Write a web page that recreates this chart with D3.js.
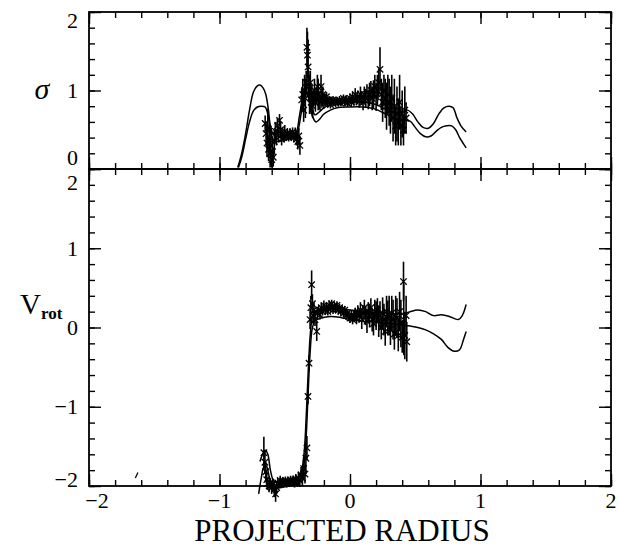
<!DOCTYPE html>
<html>
<head>
<meta charset="utf-8">
<script src="https://cdn.jsdelivr.net/npm/d3@7"></script>
<style>
  html, body { margin: 0; padding: 0; background: #fff; }
  svg { display: block; }
</style>
</head>
<body>
<script>
// ---- data ----
// sigma panel: [x, sigma, error]
var sigmaData = [
  [-0.650, 0.58, 0.10], [-0.643, 0.45, 0.15], [-0.636, 0.33, 0.18], [-0.630, 0.52, 0.25],
  [-0.624, 0.25, 0.15], [-0.618, 0.38, 0.20], [-0.612, 0.20, 0.18], [-0.606, 0.30, 0.25],
  [-0.600, 0.12, 0.10], [-0.594, 0.22, 0.15], [-0.588, 0.15, 0.12], [-0.580, 0.35, 0.15],
  [-0.572, 0.48, 0.12], [-0.564, 0.40, 0.10], [-0.556, 0.55, 0.10], [-0.548, 0.45, 0.10],
  [-0.540, 0.62, 0.08], [-0.532, 0.50, 0.10], [-0.524, 0.38, 0.08], [-0.516, 0.45, 0.08],
  [-0.508, 0.40, 0.06], [-0.500, 0.48, 0.08], [-0.490, 0.42, 0.06], [-0.480, 0.45, 0.06],
  [-0.470, 0.40, 0.05], [-0.460, 0.46, 0.06], [-0.450, 0.42, 0.05], [-0.440, 0.47, 0.06],
  [-0.430, 0.40, 0.06], [-0.420, 0.45, 0.08], [-0.410, 0.38, 0.08], [-0.400, 0.35, 0.10],
  [-0.392, 0.42, 0.10], [-0.384, 0.30, 0.12],
  [-0.370, 0.88, 0.15], [-0.362, 0.95, 0.20], [-0.355, 0.75, 0.15], [-0.348, 1.00, 0.20],
  [-0.342, 0.90, 0.25], [-0.336, 1.10, 0.15], [-0.330, 1.55, 0.25], [-0.326, 1.45, 0.30],
  [-0.321, 1.30, 0.35], [-0.316, 1.05, 0.20], [-0.310, 0.95, 0.25], [-0.304, 1.10, 0.15],
  [-0.298, 0.85, 0.15], [-0.292, 0.95, 0.12], [-0.286, 0.80, 0.15], [-0.280, 0.90, 0.10],
  [-0.272, 1.00, 0.15], [-0.265, 0.85, 0.12], [-0.258, 0.92, 0.10], [-0.250, 1.05, 0.15],
  [-0.244, 0.95, 0.20], [-0.238, 0.88, 0.12], [-0.230, 0.85, 0.10], [-0.222, 1.05, 0.15],
  [-0.215, 0.90, 0.12], [-0.208, 0.95, 0.10], [-0.200, 0.85, 0.08],
  [-0.190, 0.88, 0.08], [-0.180, 0.92, 0.06], [-0.170, 0.85, 0.06], [-0.160, 0.88, 0.05],
  [-0.150, 0.82, 0.05], [-0.140, 0.85, 0.05], [-0.130, 0.88, 0.05], [-0.120, 0.86, 0.05],
  [-0.110, 0.84, 0.05], [-0.100, 0.87, 0.04], [-0.090, 0.85, 0.04], [-0.080, 0.88, 0.05],
  [-0.070, 0.84, 0.04], [-0.060, 0.87, 0.04], [-0.050, 0.90, 0.05], [-0.040, 0.86, 0.05],
  [-0.030, 0.88, 0.05], [-0.020, 0.84, 0.05], [-0.010, 0.88, 0.05], [0.000, 0.90, 0.06],
  [0.010, 0.85, 0.06], [0.020, 0.92, 0.06], [0.030, 0.87, 0.06], [0.040, 0.95, 0.08],
  [0.050, 0.88, 0.07], [0.060, 0.92, 0.08], [0.070, 0.86, 0.08], [0.080, 0.95, 0.10],
  [0.090, 0.90, 0.08], [0.100, 0.85, 0.10], [0.110, 0.95, 0.10], [0.120, 0.90, 0.12],
  [0.130, 0.98, 0.10], [0.140, 0.88, 0.12], [0.150, 0.95, 0.15], [0.160, 1.00, 0.12],
  [0.170, 0.90, 0.15], [0.180, 0.95, 0.18], [0.190, 1.05, 0.15], [0.200, 0.92, 0.18],
  [0.210, 1.00, 0.20], [0.220, 1.10, 0.18], [0.230, 1.27, 0.28], [0.240, 0.95, 0.20],
  [0.250, 0.85, 0.25], [0.260, 1.00, 0.20], [0.270, 0.90, 0.25], [0.280, 0.80, 0.30],
  [0.290, 0.95, 0.25], [0.300, 0.85, 0.30], [0.310, 0.75, 0.30], [0.320, 0.90, 0.30],
  [0.330, 0.65, 0.30], [0.340, 0.80, 0.35], [0.350, 0.55, 0.25], [0.360, 0.70, 0.35],
  [0.370, 0.60, 0.30], [0.380, 0.85, 0.35], [0.390, 0.55, 0.25], [0.400, 0.70, 0.30],
  [0.410, 0.50, 0.20], [0.420, 0.75, 0.30], [0.430, 0.65, 0.20]
];

var sigmaUpper = [
  [-0.860, 0.02], [-0.830, 0.20], [-0.800, 0.45], [-0.770, 0.75], [-0.740, 0.98], [-0.710, 1.06],
  [-0.690, 1.07], [-0.665, 1.03], [-0.645, 0.95], [-0.625, 0.75], [-0.610, 0.55], [-0.590, 0.45],
  [-0.560, 0.42], [-0.520, 0.40], [-0.480, 0.42], [-0.440, 0.45], [-0.410, 0.48], [-0.390, 0.65],
  [-0.370, 0.85], [-0.350, 1.00], [-0.330, 1.08], [-0.310, 1.00], [-0.290, 0.80], [-0.270, 0.69],
  [-0.240, 0.72], [-0.200, 0.78], [-0.150, 0.82], [-0.100, 0.84], [0.000, 0.85], [0.100, 0.85],
  [0.150, 0.84], [0.200, 0.82], [0.250, 0.78], [0.300, 0.74], [0.350, 0.72], [0.400, 0.73],
  [0.440, 0.75], [0.480, 0.70], [0.520, 0.60], [0.560, 0.53], [0.600, 0.52], [0.640, 0.58],
  [0.680, 0.70], [0.720, 0.78], [0.760, 0.80], [0.790, 0.78], [0.820, 0.65], [0.850, 0.55],
  [0.890, 0.47]
];

var sigmaLower = [
  [-0.855, 0.02], [-0.830, 0.15], [-0.800, 0.38], [-0.770, 0.60], [-0.740, 0.74], [-0.710, 0.79],
  [-0.680, 0.80], [-0.650, 0.79], [-0.630, 0.70], [-0.610, 0.50], [-0.590, 0.38], [-0.560, 0.35],
  [-0.520, 0.36], [-0.480, 0.38], [-0.440, 0.40], [-0.410, 0.42], [-0.390, 0.55], [-0.370, 0.75],
  [-0.350, 0.90], [-0.330, 0.95], [-0.310, 0.85], [-0.290, 0.68], [-0.260, 0.60], [-0.230, 0.64],
  [-0.200, 0.70], [-0.150, 0.75], [-0.100, 0.78], [0.000, 0.79], [0.100, 0.79], [0.150, 0.78],
  [0.200, 0.76], [0.250, 0.72], [0.300, 0.68], [0.350, 0.64], [0.400, 0.62], [0.460, 0.61],
  [0.500, 0.53], [0.540, 0.45], [0.580, 0.41], [0.620, 0.42], [0.660, 0.48], [0.700, 0.53],
  [0.740, 0.55], [0.780, 0.55], [0.810, 0.50], [0.840, 0.40], [0.870, 0.32], [0.890, 0.27]
];

// rotation panel: [x, vrot, error]
var vrotData = [
  [-0.660, -1.58, 0.20], [-0.652, -1.70, 0.15], [-0.645, -1.82, 0.12], [-0.638, -1.92, 0.10],
  [-0.630, -1.97, 0.08], [-0.620, -2.00, 0.08], [-0.610, -1.96, 0.06], [-0.600, -2.02, 0.08],
  [-0.590, -1.98, 0.07], [-0.580, -2.04, 0.10], [-0.570, -2.10, 0.10], [-0.562, -2.02, 0.08],
  [-0.554, -1.96, 0.06], [-0.545, -1.98, 0.05], [-0.535, -1.93, 0.06], [-0.525, -1.97, 0.05],
  [-0.515, -1.94, 0.05], [-0.505, -1.96, 0.05], [-0.495, -1.93, 0.05], [-0.485, -1.97, 0.05],
  [-0.475, -1.94, 0.05], [-0.465, -1.96, 0.05], [-0.455, -1.92, 0.05], [-0.445, -1.95, 0.05],
  [-0.435, -1.93, 0.06], [-0.425, -1.96, 0.06], [-0.415, -1.91, 0.06], [-0.405, -1.94, 0.06],
  [-0.395, -1.90, 0.08], [-0.385, -1.93, 0.08], [-0.375, -1.86, 0.10], [-0.365, -1.90, 0.10],
  [-0.355, -1.78, 0.15], [-0.345, -1.85, 0.12], [-0.338, -1.65, 0.20], [-0.330, -1.52, 0.15],
  [-0.322, -0.87, 0.10], [-0.314, -0.45, 0.10], [-0.306, 0.10, 0.12], [-0.300, 0.25, 0.15],
  [-0.294, 0.54, 0.18], [-0.288, 0.30, 0.12], [-0.282, 0.15, 0.10], [-0.276, 0.22, 0.10],
  [-0.268, 0.10, 0.08], [-0.255, -0.05, 0.12], [-0.250, 0.18, 0.08], [-0.240, 0.22, 0.06],
  [-0.230, 0.16, 0.06], [-0.220, 0.25, 0.06], [-0.210, 0.20, 0.05], [-0.200, 0.28, 0.06],
  [-0.190, 0.22, 0.05], [-0.180, 0.26, 0.05], [-0.170, 0.20, 0.05], [-0.160, 0.28, 0.06],
  [-0.150, 0.24, 0.05], [-0.140, 0.30, 0.05], [-0.130, 0.22, 0.05], [-0.120, 0.27, 0.05],
  [-0.110, 0.24, 0.05], [-0.100, 0.28, 0.05], [-0.090, 0.22, 0.05], [-0.080, 0.25, 0.05],
  [-0.070, 0.20, 0.05], [-0.060, 0.23, 0.05], [-0.050, 0.18, 0.05], [-0.040, 0.22, 0.05],
  [-0.030, 0.15, 0.05], [-0.020, 0.18, 0.05], [-0.010, 0.14, 0.06], [0.000, 0.12, 0.06],
  [0.010, 0.16, 0.06], [0.020, 0.10, 0.06], [0.030, 0.14, 0.07], [0.040, 0.18, 0.07],
  [0.050, 0.12, 0.08], [0.060, 0.20, 0.08], [0.070, 0.15, 0.08], [0.080, 0.22, 0.10],
  [0.090, 0.10, 0.12], [0.100, 0.18, 0.10], [0.110, 0.25, 0.10], [0.120, 0.15, 0.12],
  [0.130, 0.08, 0.15], [0.140, 0.20, 0.12], [0.150, 0.15, 0.15], [0.160, 0.25, 0.12],
  [0.170, 0.10, 0.15], [0.180, 0.05, 0.15], [0.190, 0.20, 0.15], [0.200, 0.15, 0.18],
  [0.210, 0.22, 0.15], [0.220, 0.08, 0.20], [0.230, 0.15, 0.18], [0.240, 0.00, 0.15],
  [0.250, 0.18, 0.20], [0.260, 0.10, 0.20], [0.270, -0.05, 0.18], [0.280, 0.20, 0.20],
  [0.290, 0.12, 0.22], [0.300, 0.15, 0.25], [0.310, -0.02, 0.20], [0.320, 0.18, 0.22],
  [0.330, 0.10, 0.25], [0.340, -0.08, 0.20], [0.350, 0.15, 0.25], [0.360, 0.12, 0.25],
  [0.370, -0.10, 0.20], [0.380, 0.20, 0.25], [0.390, 0.05, 0.30], [0.400, -0.12, 0.20],
  [0.410, 0.58, 0.25], [0.412, 0.10, 0.45], [0.420, -0.10, 0.30], [0.430, 0.15, 0.25],
  [0.435, -0.18, 0.25]
];

var vrotUpper = [
  [-0.690, -1.69], [-0.670, -1.60], [-0.650, -1.55], [-0.630, -1.60], [-0.610, -1.80], [-0.590, -1.92],
  [-0.560, -1.96], [-0.500, -1.95], [-0.440, -1.93], [-0.400, -1.90], [-0.370, -1.80], [-0.350, -1.55],
  [-0.335, -1.10], [-0.320, -0.55], [-0.305, -0.10], [-0.290, 0.12], [-0.270, 0.20], [-0.220, 0.24],
  [-0.150, 0.25], [-0.080, 0.24], [0.000, 0.22], [0.100, 0.20], [0.200, 0.19], [0.300, 0.18],
  [0.400, 0.17], [0.460, 0.20], [0.520, 0.22], [0.580, 0.20], [0.640, 0.15], [0.700, 0.16],
  [0.760, 0.14], [0.830, 0.10], [0.860, 0.15], [0.890, 0.29]
];

var vrotLower = [
  [-0.700, -2.10], [-0.680, -1.90], [-0.660, -1.76], [-0.640, -1.75], [-0.620, -1.88], [-0.600, -1.98],
  [-0.560, -2.02], [-0.500, -2.01], [-0.440, -1.99], [-0.400, -1.96], [-0.370, -1.88], [-0.350, -1.70],
  [-0.335, -1.35], [-0.320, -0.80], [-0.305, -0.30], [-0.290, -0.02], [-0.270, 0.08], [-0.220, 0.12],
  [-0.150, 0.14], [-0.080, 0.13], [0.000, 0.10], [0.100, 0.08], [0.200, 0.07], [0.300, 0.05],
  [0.400, 0.03], [0.460, 0.02], [0.520, 0.00], [0.580, -0.03], [0.640, -0.08], [0.700, -0.15],
  [0.750, -0.25], [0.800, -0.30], [0.840, -0.28], [0.870, -0.15], [0.890, -0.05]
];

var strayMark = [[-1.645, -1.90], [-1.625, -1.83]];

var xTickLabels = [-2, -1, 0, 1, 2];
var sigmaTickLabels = [0, 1, 2];
var vrotTickLabels = [-2, -1, 0, 1, 2];

// ---- layout ----
var outerWidth = 619, outerHeight = 549;
var serif = "'Liberation Serif', 'DejaVu Serif', serif";

var svg = d3.select("body").append("svg")
    .attr("width", outerWidth)
    .attr("height", outerHeight);

var xScale = d3.scaleLinear().domain([-2, 2]).range([89, 611]);
var ySigma = d3.scaleLinear().domain([0, 2]).range([169, 12]);
var yVrot = d3.scaleLinear().domain([-2, 2]).range([486, 169]);

function fmt(v) { return v < 0 ? "\u2212" + Math.abs(v) : String(v); }
function range(a, b, step) {
    var out = [];
    for (var i = 0; a + i * step <= b + 1e-9; i++) out.push(+(a + i * step).toFixed(4));
    return out;
}

function drawFrame(yScale, majorY, minorY) {
    var x0 = xScale.range()[0], x1 = xScale.range()[1];
    var y0 = yScale.range()[1], y1 = yScale.range()[0];
    var majorX = range(-2, 2, 1), minorX = range(-2, 2, 0.2);
    var g = svg.append("g");
    var sets = [[minorX, minorY, 6], [majorX, majorY, 12]];

    // inward ticks on all four sides, minor then major
    sets.forEach(function(set) {
        g.append("g").attr("transform", "translate(0," + y1 + ")")
            .call(d3.axisBottom(xScale).tickValues(set[0]).tickSize(-set[2]).tickFormat(""));
        g.append("g").attr("transform", "translate(0," + y0 + ")")
            .call(d3.axisTop(xScale).tickValues(set[0]).tickSize(-set[2]).tickFormat(""));
        g.append("g").attr("transform", "translate(" + x0 + ",0)")
            .call(d3.axisLeft(yScale).tickValues(set[1]).tickSize(-set[2]).tickFormat(""));
        g.append("g").attr("transform", "translate(" + x1 + ",0)")
            .call(d3.axisRight(yScale).tickValues(set[1]).tickSize(-set[2]).tickFormat(""));
    });
    g.selectAll(".domain").remove();
    g.selectAll(".tick line").attr("stroke", "#000").attr("stroke-width", 1.4);

    g.append("rect")
        .attr("x", x0).attr("y", y0)
        .attr("width", x1 - x0).attr("height", y1 - y0)
        .attr("fill", "none").attr("stroke", "#000").attr("stroke-width", 1.8);
}

// edge labels are pulled inside the frame, as in the original plot
function yLabels(yScale, values, padTop, padBottom) {
    var lo = yScale.range()[1], hi = yScale.range()[0];
    svg.append("g").selectAll("text")
        .data(values).enter().append("text")
        .attr("x", 78)
        .attr("y", function(d) { return Math.max(lo + padTop, Math.min(hi - padBottom, yScale(d))); })
        .attr("dy", "0.35em")
        .attr("text-anchor", "end")
        .attr("font-family", serif)
        .attr("font-size", 22)
        .text(fmt);
}

function lineGen(yScale) {
    return d3.line()
        .x(function(d) { return xScale(d[0]); })
        .y(function(d) { return yScale(d[1]); })
        .curve(d3.curveCatmullRom);
}

function drawData(rows, yScale, upper, lower) {
    var g = svg.append("g");
    var curves = [upper, lower];
    curves.forEach(function(c) {
        g.append("path")
            .attr("d", lineGen(yScale)(c))
            .attr("fill", "none").attr("stroke", "#000").attr("stroke-width", 1.5);
    });
    g.selectAll(".err").data(rows).enter().append("line")
        .attr("class", "err")
        .attr("x1", function(d) { return xScale(d[0]); })
        .attr("x2", function(d) { return xScale(d[0]); })
        .attr("y1", function(d) { return yScale(d[1] - d[2]); })
        .attr("y2", function(d) { return yScale(d[1] + d[2]); })
        .attr("stroke", "#000").attr("stroke-width", 1.6);
    var s = 3.2;
    g.selectAll(".pt").data(rows).enter().append("path")
        .attr("class", "pt")
        .attr("d", function(d) {
            var cx = xScale(d[0]), cy = yScale(d[1]);
            return "M" + (cx - s) + "," + (cy - s) + "L" + (cx + s) + "," + (cy + s) +
                   "M" + (cx - s) + "," + (cy + s) + "L" + (cx + s) + "," + (cy - s);
        })
        .attr("stroke", "#000").attr("stroke-width", 1.3).attr("fill", "none");
}

// top panel: sigma
drawData(sigmaData, ySigma, sigmaUpper, sigmaLower);
drawFrame(ySigma, range(0, 2, 1), range(0, 2, 0.2));
yLabels(ySigma, sigmaTickLabels, 8, 12);

// bottom panel: rotation
drawData(vrotData, yVrot, vrotUpper, vrotLower);
svg.append("path")
    .attr("d", d3.line().x(function(d) { return xScale(d[0]); }).y(function(d) { return yVrot(d[1]); })(strayMark))
    .attr("stroke", "#000").attr("stroke-width", 1.3).attr("fill", "none");
drawFrame(yVrot, range(-2, 2, 1), range(-2, 2, 0.2));
yLabels(yVrot, vrotTickLabels, 13, 7);

// x tick labels
svg.append("g").selectAll("text")
    .data(xTickLabels).enter().append("text")
    .attr("x", function(d) { return Math.max(97, xScale(d)); })
    .attr("y", 508)
    .attr("text-anchor", "middle")
    .attr("font-family", serif)
    .attr("font-size", 22)
    .text(fmt);

// axis titles
svg.append("text")
    .attr("x", 342).attr("y", 541)
    .attr("text-anchor", "middle")
    .attr("font-family", serif)
    .attr("font-size", 31)
    .text("PROJECTED RADIUS");

svg.append("text")
    .attr("x", 42).attr("y", 99)
    .attr("text-anchor", "middle")
    .attr("font-family", serif)
    .attr("font-style", "italic")
    .attr("font-size", 30)
    .text("\u03c3");

var vt = svg.append("text")
    .attr("x", 20).attr("y", 314)
    .attr("font-family", serif)
    .attr("font-size", 29);
vt.append("tspan").text("V");
vt.append("tspan").attr("dy", 5).attr("font-size", 17).attr("font-weight", "bold").text("rot");
</script>
</body>
</html>
